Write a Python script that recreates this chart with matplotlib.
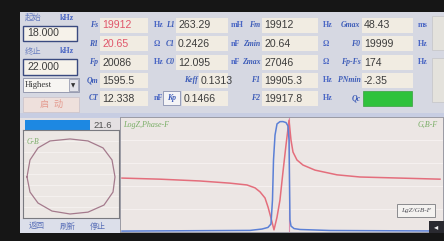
import matplotlib
matplotlib.use("Agg")
import matplotlib.pyplot as plt
from matplotlib.patches import Rectangle
import numpy as np

plt.rcParams['font.family'] = ['Liberation Sans', 'Noto Sans CJK SC', 'DejaVu Sans']

# ---------------- data ----------------
start_label = "起始"
stop_label = "终止"
freq_unit = "kHz"
start_khz = "18.000"
stop_khz = "22.000"
mode_text = "Highest"
run_text = "启  动"
progress_value = 21.6
bottom_buttons = ["返回", "刷新", "停止"]

col1_labels = ["Fs", "R1", "Fp", "Qm", "CT"]
col1_values = ["19912", "20.65", "20086", "1595.5", "12.338"]
col1_units = ["Hz", "Ω", "Hz", "", "nF"]
col2_labels = ["L1", "C1", "C0", "Keff", "Kp"]
col2_values = ["263.29", "0.2426", "12.095", "0.1313", "0.1466"]
col2_units = ["mH", "nF", "nF", "", ""]
col3_labels = ["Fm", "Zmin", "Zmax", "F1", "F2"]
col3_values = ["19912", "20.64", "27046", "19905.3", "19917.8"]
col3_units = ["Hz", "Ω", "Ω", "Hz", "Hz"]
col4_labels = ["Gmax", "F0", "Fp-Fs", "PNmin", "Qc"]
col4_values = ["48.43", "19999", "174", "-2.35", ""]
col4_units = ["ms", "Hz", "Hz", "", ""]
red_values = {"Fs", "R1"}

# LogZ curve (frequency kHz, log10 |Z|)
z_freq = [18.000, 18.478, 18.981, 19.358, 19.572, 19.673, 19.736, 19.799, 19.837,
          19.874, 19.912, 19.950, 19.987, 20.025, 20.063, 20.101, 20.126, 20.151,
          20.201, 20.277, 20.428, 20.704, 20.994, 21.497, 22.000]
z_log = [2.79, 2.76, 2.71, 2.65, 2.60, 2.52, 2.41, 2.24, 1.99,
         1.69, 1.36, 1.71, 2.18, 2.96, 3.70, 4.39, 3.84, 3.51,
         3.29, 3.15, 3.01, 2.88, 2.82, 2.79, 2.76]
# Conductance curve (frequency kHz, G mS)
g_freq = [18.000, 19.610, 19.761, 19.836, 19.874, 19.893, 19.906, 19.925, 19.950,
          19.987, 20.025, 20.063, 20.088, 20.101, 20.107, 20.113, 20.126, 20.164,
          20.239, 20.616, 22.000]
g_ms = [0.4, 0.7, 1.3, 2.0, 3.5, 14.0, 31.6, 42.5, 47.4,
        48.4, 48.43, 48.0, 46.5, 40.4, 22.8, 5.3, 2.6, 1.5,
        1.1, 0.66, 0.44]
phase_marker_khz = 20.101
# Admittance circle (G mS, B mS)
circle_g = [0.0, 1.65, 6.05, 12.65, 23.65, 33.55, 41.8, 46.75, 48.4, 47.3,
            42.35, 33.55, 23.65, 13.75, 6.05, 1.65, 0.0]
circle_b = [-0.6, 10.4, 18.2, 22.7, 24.0, 22.7, 18.2, 10.4, -0.6, -10.4,
            -18.8, -23.4, -24.6, -22.7, -17.5, -10.4, -0.6]

# ---------------- styles ----------------
LBL = dict(family=['Liberation Serif', 'DejaVu Serif'], style='italic',
           weight='bold', size=5.6, color='#3d5cb8')
UNIT = dict(family=['Liberation Serif', 'DejaVu Sans'], weight='bold',
            size=5.8, color='#4a66c4')
VAL = dict(size=7.6, color='#3c3c3c')
BOXC = '#f1ece2'

fig = plt.figure(figsize=(4.44, 2.41), dpi=100, facecolor='#161616')
bg = fig.add_axes([0, 0, 1, 1])
bg.set_xlim(0, 444)
bg.set_ylim(241, 0)
bg.axis('off')


def rect(ax, x0, y0, x1, y1, fc, ec='none', lw=0.6, z=1):
    ax.add_patch(Rectangle((x0, y0), x1 - x0, y1 - y0, fc=fc, ec=ec, lw=lw, zorder=z))


# screen areas
rect(bg, 20, 12, 444, 233, '#dcdde4')
rect(bg, 20, 12, 444, 113, '#d6d8e2')
rect(bg, 20, 113, 444, 118, '#c7cde2')
rect(bg, 20, 118, 444, 233, '#e4e0e2')

# left controls
bg.text(25, 18, start_label, va='center', ha='left', size=6, color='#6a7fc0')
bg.text(74, 18, freq_unit, va='center', ha='right', **UNIT)
rect(bg, 23, 26, 77, 41, '#f6f2ea', ec='#3a4a80', lw=1.0, z=2)
bg.text(27, 33.5, start_khz, va='center', ha='left', zorder=3, **VAL)
bg.text(25, 51, stop_label, va='center', ha='left', size=6, color='#6a7fc0')
bg.text(74, 51, freq_unit, va='center', ha='right', **UNIT)
rect(bg, 23, 59, 77, 75, '#f6f2ea', ec='#3a4a80', lw=1.0, z=2)
bg.text(27, 67, stop_khz, va='center', ha='left', zorder=3, **VAL)
rect(bg, 23, 78, 79, 92, '#f7f5f2', ec='#8a8fa8', lw=0.6, z=2)
rect(bg, 69, 79, 78, 91, '#e4e4ea', ec='#8a8fa8', lw=0.5, z=3)
bg.text(25, 85, mode_text, va='center', ha='left', size=6.2, zorder=4,
        family=['Liberation Serif', 'DejaVu Serif'], color='#333')
bg.text(73.5, 85.5, '▼', va='center', ha='center', size=4, zorder=4, color='#333',
        family=['DejaVu Sans'])
rect(bg, 23, 97, 79, 112, '#eee0dc', ec='#c9c0c8', lw=0.5, z=2)
bg.text(51, 104.5, run_text, va='center', ha='center', size=6.5, zorder=3, color='#e49a8e')

# parameter grid
row_y = [25, 43.5, 62, 80, 98]
cols = [
    (col1_labels, col1_values, col1_units, 100, 148, 154),
    (col2_labels, col2_values, col2_units, 176, 228, 231),
    (col3_labels, col3_values, col3_units, 262, 318, 323),
    (col4_labels, col4_values, col4_units, 362, 413, 418),
]
for ci, (labels, values, units, bx0, bx1, ux) in enumerate(cols):
    for ri, (lab, val, unit) in enumerate(zip(labels, values, units)):
        y = row_y[ri]
        x0 = bx0
        if lab == "Keff":
            x0 = 199
        if lab == "Kp":
            x0 = 182
            rect(bg, 163, y - 7, 180, y + 7, '#f4f4f6', ec='#8890b0', lw=0.6, z=2)
            bg.text(171.5, y + 0.5, lab, va='center', ha='center', zorder=3, **LBL)
        else:
            bg.text(x0 - 1.5, y, lab, va='center', ha='right', zorder=3, **LBL)
        if lab == "Qc":
            rect(bg, 363, y - 7.5, 412, y + 7.5, '#2fc23c', ec='#3aa040', lw=0.5, z=2)
        else:
            rect(bg, x0, y - 7.5, bx1, y + 7.5, BOXC, z=2)
            col = '#e0566a' if lab in red_values else VAL['color']
            bg.text(x0 + 2, y + 0.5, val, va='center', ha='left', zorder=3,
                    size=VAL['size'], color=col)
        if unit:
            bg.text(ux, y, unit, va='center', ha='left', zorder=3, **UNIT)

# right side buttons
rect(bg, 432, 16, 446, 50, '#e4e2dc', ec='#c8c8cc', lw=0.6, z=2)
rect(bg, 432, 58, 446, 102, '#e4e2dc', ec='#c8c8cc', lw=0.6, z=2)

# progress bar
rect(bg, 25, 120, 90, 130, '#1d88e2', z=3)
bg.text(93, 125.5, f"{progress_value:.1f}", va='center', ha='left', size=6.8,
        color='#505050', zorder=3)

# bottom buttons
rect(bg, 20, 219, 120, 233, '#dcdfea')
for name, bx in zip(bottom_buttons, [37, 68, 98]):
    bg.text(bx, 226.5, name, va='center', ha='center', size=5.8, color='#5a70b8')

# ---------------- G-B circle panel ----------------
gb = fig.add_axes([23 / 444, 1 - 218 / 241, 96 / 444, 88 / 241])
gb.set_facecolor('#ece7e4')
gb.set_xlim(-2.2, 50.6)
gb.set_ylim(-27.2, 29.8)
gb.set_xticks([])
gb.set_yticks(np.linspace(-27.2, 29.8, 9)[1:-1])
gb.tick_params(length=0, labelleft=False)
gb.grid(axis='y', color='#f6f2f0', lw=0.6)
gb.plot(circle_g, circle_b, color='#a47a8c', lw=0.9)
for s in gb.spines.values():
    s.set_color('#7a7a80')
    s.set_linewidth(0.8)
gb.text(0.04, 0.86, "G-B", transform=gb.transAxes, ha='left', va='center',
        family=['Liberation Serif'], style='italic', size=5.5, color='#7cae6a')

# ---------------- main curves ----------------
ax = fig.add_axes([120 / 444, 1 - 232 / 241, 323 / 444, 115 / 241])
ax.set_facecolor('#ece6e4')
ax.set_xlim(17.975, 22.038)
ax.set_ylim(1.3, 4.478)
ax.set_xticks([])
ax.set_yticks(np.linspace(1.3, 4.478, 6)[1:-1])
ax.tick_params(length=0, labelleft=False)
ax.grid(axis='y', color='#f6f1f0', lw=0.7)
for s in ax.spines.values():
    s.set_color('#9a9aa4')
    s.set_linewidth(0.7)
ax.axvline(phase_marker_khz, color='#d87aa0', lw=0.8, alpha=0.8)
ax.plot(z_freq, z_log, color='#e46e7c', lw=1.1, zorder=4)
ax2 = ax.twinx()
ax2.set_ylim(0, 50.44)
ax2.set_yticks([])
ax2.axis('off')
ax2.plot(g_freq, g_ms, color='#5b80d6', lw=1.1, zorder=3)

ax.text(0.01, 0.93, "LogZ,Phase-F", transform=ax.transAxes, ha='left', va='center',
        family=['Liberation Serif'], style='italic', size=5.8, color='#79ae66')
ax.text(0.985, 0.93, "G,B-F", transform=ax.transAxes, ha='right', va='center',
        family=['Liberation Serif'], style='italic', size=5.8, color='#79ae66')

# overlay: legend button & corner icon
ov = fig.add_axes([0, 0, 1, 1])
ov.set_xlim(0, 444)
ov.set_ylim(241, 0)
ov.axis('off')
ov.patch.set_alpha(0)
rect(ov, 397, 204, 435, 217, '#f4f2f0', ec='#8a8a8e', lw=0.7, z=2)
ov.text(416, 210.5, "LgZ/GB-F", ha='center', va='center', family=['Liberation Serif'],
        style='italic', size=5.2, color='#505058', zorder=3)
rect(ov, 429, 221, 444, 233, '#2a2a30', z=2)
ov.text(436.5, 227, '◂', ha='center', va='center', size=6, color='#f0f0f0',
        family=['DejaVu Sans'], zorder=3)

fig.savefig("out.png", dpi=100, facecolor=fig.get_facecolor())
